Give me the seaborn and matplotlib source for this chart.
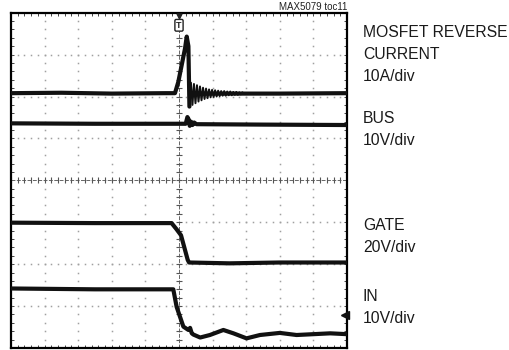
import numpy as np
import pandas as pd
import matplotlib
matplotlib.use("Agg")
import matplotlib.pyplot as plt
import seaborn as sns

# Scope capture: time in divisions (10 across), amplitude in divisions (8 tall, centred on 0)
current_t = [0.0, 1.5, 3.0, 4.6, 4.88, 4.98, 5.08, 5.18, 5.23, 5.28, 5.31]
current_v = [2.08, 2.09, 2.07, 2.08, 2.08, 2.35, 2.75, 3.15, 3.43, 3.20, 1.76]

# ringing after the reverse-current spike
ring_t = [5.31, 5.355, 5.40, 5.445, 5.49, 5.535, 5.58, 5.625, 5.67, 5.715,
          5.76, 5.805, 5.85, 5.895, 5.94, 5.985, 6.03, 6.075, 6.12, 6.165,
          6.21, 6.255, 6.30, 6.345, 6.39, 6.435, 6.48, 6.525, 6.57, 6.615,
          6.66, 6.705, 6.75, 6.795, 6.84, 6.885, 6.93]
ring_v = [1.76, 2.33, 1.80, 2.30, 1.84, 2.27, 1.88, 2.24, 1.91, 2.21,
          1.94, 2.19, 1.96, 2.17, 1.98, 2.16, 1.99, 2.15, 2.00, 2.14,
          2.01, 2.13, 2.02, 2.13, 2.02, 2.12, 2.03, 2.12, 2.03, 2.11,
          2.04, 2.11, 2.04, 2.10, 2.05, 2.10, 2.07]

current_tail_t = [5.40, 6.93, 8.0, 10.0]
current_tail_v = [2.07, 2.07, 2.07, 2.08]

bus_t = [0.0, 2.5, 5.20, 5.25, 5.29, 5.32, 5.36, 5.40, 5.45, 5.52, 7.5, 10.0]
bus_v = [1.36, 1.35, 1.35, 1.51, 1.45, 1.30, 1.40, 1.32, 1.38, 1.34, 1.33, 1.32]

gate_t = [0.0, 2.5, 4.78, 4.93, 5.06, 5.26, 5.30, 6.5, 8.0, 10.0]
gate_v = [-1.01, -1.02, -1.02, -1.17, -1.31, -1.90, -1.96, -1.98, -1.96, -1.96]

in_t = [0.0, 2.5, 4.83, 4.93, 5.13, 5.28, 5.33, 5.38, 5.43, 5.63, 5.92, 6.32,
        6.62, 7.01, 7.41, 8.0, 8.5, 9.0, 9.5, 10.0]
in_v = [-2.58, -2.60, -2.60, -3.02, -3.49, -3.57, -3.52, -3.65, -3.68, -3.75, -3.69, -3.57,
        -3.65, -3.77, -3.69, -3.64, -3.69, -3.67, -3.65, -3.67]

channel_labels = ["MOSFET REVERSE\nCURRENT\n10A/div", "BUS\n10V/div",
                  "GATE\n20V/div", "IN\n10V/div"]
label_tops = [26.0, 111.5, 218.5, 290.0]   # pixel rows of the first cap line
chart_tag = "MAX5079 toc11"

traces = pd.concat([
    pd.DataFrame({"t": current_t, "v": current_v, "ch": "current"}),
    pd.DataFrame({"t": current_tail_t, "v": current_tail_v, "ch": "current_tail"}),
    pd.DataFrame({"t": bus_t, "v": bus_v, "ch": "bus"}),
    pd.DataFrame({"t": gate_t, "v": gate_v, "ch": "gate"}),
    pd.DataFrame({"t": in_t, "v": in_v, "ch": "in"}),
], ignore_index=True)
ringing = pd.DataFrame({"t": ring_t, "v": ring_v})

sns.set_style("white")
plt.rcParams["font.family"] = ["Liberation Sans", "DejaVu Sans"]

W, H, DPI = 510, 350, 100
fig = plt.figure(figsize=(W / DPI, H / DPI), dpi=DPI)
ax = fig.add_axes([11 / W, 1 - 348 / H, 336 / W, (348 - 12.7) / H])

ax.set_xlim(0, 10)
ax.set_ylim(-4, 4)

# dotted graticule: one dot every 0.2 div
grid_col = "#a0a0a0"
fine_x = np.arange(0, 10.001, 0.2)
fine_y = np.arange(-4, 4.001, 0.2)
for gx in [1, 2, 3, 4, 6, 7, 8, 9]:
    ax.plot(np.full_like(fine_y, gx), fine_y, ls="none", marker="s",
            ms=1.1, mew=0, color=grid_col, zorder=1)
for gy in [-3, -2, -1, 1, 2, 3]:
    ax.plot(fine_x, np.full_like(fine_x, gy), ls="none", marker="s",
            ms=1.1, mew=0, color=grid_col, zorder=1)

# centre cross with minor tick marks
ax.axhline(0, color="#666666", lw=0.7, ls=(0, (4, 1.5)), zorder=1)
ax.axvline(5, color="#666666", lw=0.7, ls=(0, (4, 1.5)), zorder=1)
ax.plot(fine_x, np.zeros_like(fine_x), ls="none", marker="|", ms=4,
        mew=0.8, color="#555555", zorder=1)
ax.plot(np.full_like(fine_y, 5.0), fine_y, ls="none", marker="_", ms=4,
        mew=0.8, color="#555555", zorder=1)

# waveforms
sns.lineplot(data=traces, x="t", y="v", units="ch", estimator=None, sort=False,
             color="#111111", lw=3.0, ax=ax, legend=False, zorder=3)
sns.lineplot(data=ringing, x="t", y="v", estimator=None, sort=False,
             color="#111111", lw=1.4, ax=ax, legend=False, zorder=4)

# trigger indicator and ground marker
ax.plot([5.0], [3.93], ls="none", marker="v", ms=3.5, color="#222222", zorder=4)
ax.text(5.0, 3.70, "T", ha="center", va="center", fontsize=6.5,
        fontweight="bold", color="#222222", zorder=5,
        bbox=dict(boxstyle="round,pad=0.15", fc="white", ec="#222222", lw=1.0))
ax.plot([9.93], [-3.21], ls="none", marker="<", ms=6, color="#111111",
        zorder=4, clip_on=False)

# border ticks every 0.2 div
ax.set_xticks(fine_x)
ax.set_yticks(fine_y)
ax.tick_params(direction="in", length=2.5, width=0.7, color="#444444",
               top=True, right=True, bottom=True, left=True,
               labelbottom=False, labelleft=False)
ax.set_xlabel("")
ax.set_ylabel("")
for sp in ax.spines.values():
    sp.set_visible(True)
    sp.set_color("black")
    sp.set_linewidth(1.6)

# channel annotations on the right
line_gap = 21.7
for lab, top in zip(channel_labels, label_tops):
    for i, line in enumerate(lab.split("\n")):
        base = top + 11.4 + i * line_gap
        fig.text(363 / W, 1 - base / H, line, ha="left", va="baseline",
                 fontsize=11.3, color="#1a1a1a")

fig.text(347 / W, 1 - 9.5 / H, chart_tag, ha="right", va="baseline",
         fontsize=7, color="#222222")

fig.savefig("out.png", dpi=DPI)
